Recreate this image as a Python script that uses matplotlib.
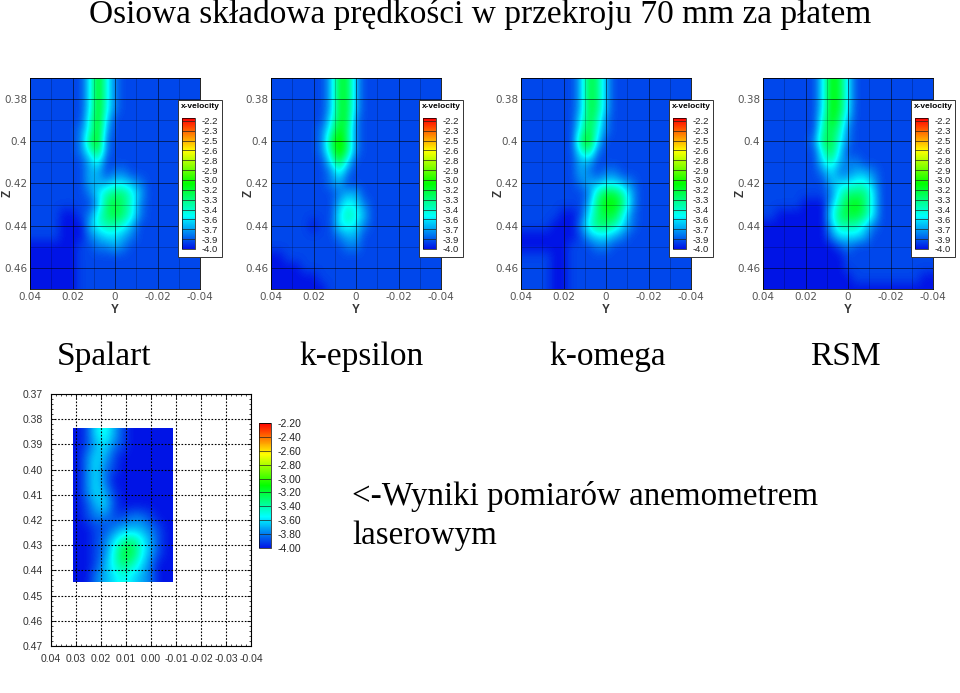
import numpy as np
import matplotlib
matplotlib.use('Agg')
import matplotlib.pyplot as plt
from matplotlib.colors import LinearSegmentedColormap, Normalize
from matplotlib.patches import Rectangle
from matplotlib.cm import ScalarMappable

W, H = 960, 693

# velocity, in -0.1 m/s, columns Y 0.04..-0.04 (step 0.004), rows Z 0.37..0.47 (step 0.005)
spalart = [
    [39,39,39,39,39,39,39,36,31,35,38,39,39,39,39,39,39,39,39,39,39],
    [39,39,39,39,39,39,39,36,31,35,38,39,39,39,39,39,39,39,39,39,39],
    [39,39,39,39,39,39,39,36,31,35,38,39,39,39,39,39,39,39,39,39,39],
    [39,39,39,39,39,39,39,36,31,35,38,39,39,39,39,39,39,39,39,39,39],
    [39,39,39,39,39,39,39,35,31,36,39,39,39,39,39,39,39,39,39,39,39],
    [39,39,39,39,39,39,38,35,31,37,39,39,39,39,39,39,39,39,39,39,39],
    [39,39,39,39,39,39,38,33,31,38,39,39,39,39,39,39,39,39,39,39,39],
    [39,39,39,39,39,39,38,35,32,38,39,39,39,39,39,39,39,39,39,39,39],
    [39,39,39,39,39,39,39,37,35,39,39,39,39,39,39,39,39,39,39,39,39],
    [39,39,39,39,39,39,39,37,37,39,38,38,39,39,39,39,39,39,39,39,39],
    [39,39,39,39,39,39,39,37,37,37,36,36,37,38,39,39,39,39,39,39,39],
    [39,39,39,39,39,39,39,38,36,34,33,33,35,37,39,39,39,39,39,39,39],
    [39,39,39,39,39,39,39,39,37,33,32,33,35,38,39,39,39,39,39,39,39],
    [39,39,39,39,40,40,39,38,35,33,32,33,35,38,39,39,39,39,39,39,39],
    [39,39,39,39,40,40,40,37,35,34,34,35,37,39,39,39,39,39,39,39,39],
    [39,39,39,39,40,40,40,38,37,36,36,37,38,39,39,39,39,39,39,39,39],
    [40,40,40,40,40,40,39,39,38,38,37,38,39,39,39,39,39,39,39,39,39],
    [40,40,40,40,40,40,39,39,39,39,39,39,39,39,39,39,39,39,39,39,39],
    [40,40,40,40,40,40,39,39,39,39,39,39,39,39,39,39,39,39,39,39,39],
    [40,40,40,40,40,40,39,39,39,39,39,39,39,39,39,39,39,39,39,39,39],
    [40,40,40,40,40,40,39,39,39,39,39,39,39,39,39,39,39,39,39,39,39],
]
k_epsilon = [
    [39,39,39,39,39,39,39,37,32,32,37,39,39,39,39,39,39,39,39,39,39],
    [39,39,39,39,39,39,39,37,32,32,37,39,39,39,39,39,39,39,39,39,39],
    [39,39,39,39,39,39,39,37,32,32,37,39,39,39,39,39,39,39,39,39,39],
    [39,39,39,39,39,39,39,37,32,32,37,39,39,39,39,39,39,39,39,39,39],
    [39,39,39,39,39,39,39,36,32,32,38,39,39,39,39,39,39,39,39,39,39],
    [39,39,39,39,39,39,38,35,31,33,38,39,39,39,39,39,39,39,39,39,39],
    [39,39,39,39,39,39,38,33,30,33,38,39,39,39,39,39,39,39,39,39,39],
    [39,39,39,39,39,39,38,34,30,33,38,39,39,39,39,39,39,39,39,39,39],
    [39,39,39,39,39,39,39,36,32,36,39,39,39,39,39,39,39,39,39,39,39],
    [39,39,39,39,39,39,39,38,35,38,39,39,39,39,39,39,39,39,39,39,39],
    [39,39,39,39,39,39,39,38,37,39,39,39,39,39,39,39,39,39,39,39,39],
    [39,39,39,39,39,39,39,39,38,37,37,39,39,39,39,39,39,39,39,39,39],
    [39,39,39,39,39,39,39,39,37,35,36,38,39,39,39,39,39,39,39,39,39],
    [39,39,39,39,39,39,39,39,36,34,35,37,39,39,39,39,39,39,39,39,39],
    [39,39,39,39,39,40,39,39,36,35,36,38,39,39,39,39,39,39,39,39,39],
    [39,39,39,39,39,39,39,39,38,37,37,39,39,39,39,39,39,39,39,39,39],
    [39,39,39,39,39,39,39,39,39,38,38,39,39,39,39,39,39,39,39,39,39],
    [40,40,39,39,39,39,39,39,39,39,39,39,39,39,39,39,39,39,39,39,39],
    [40,40,40,40,39,39,39,39,39,39,39,39,39,39,39,39,39,39,39,39,39],
    [40,40,40,40,40,40,39,39,39,39,39,39,39,39,39,39,39,39,39,39,39],
    [40,40,40,40,40,40,40,39,39,39,39,39,39,39,39,39,39,39,39,39,39],
]
k_omega = [
    [39,39,39,39,39,39,39,37,32,33,37,39,39,39,39,39,39,39,39,39,39],
    [39,39,39,39,39,39,39,37,32,33,37,39,39,39,39,39,39,39,39,39,39],
    [39,39,39,39,39,39,39,37,32,33,37,39,39,39,39,39,39,39,39,39,39],
    [39,39,39,39,39,39,39,37,32,33,37,39,39,39,39,39,39,39,39,39,39],
    [39,39,39,39,39,39,39,36,32,34,38,39,39,39,39,39,39,39,39,39,39],
    [39,39,39,39,39,39,39,35,32,35,38,39,39,39,39,39,39,39,39,39,39],
    [39,39,39,39,39,39,39,33,31,36,39,39,39,39,39,39,39,39,39,39,39],
    [39,39,39,39,39,39,39,35,33,38,39,39,39,39,39,39,39,39,39,39,39],
    [39,39,39,39,39,39,39,37,37,39,39,39,39,39,39,39,39,39,39,39,39],
    [39,39,39,39,39,39,39,37,38,39,38,38,39,39,39,39,39,39,39,39,39],
    [39,39,39,39,39,39,39,38,37,37,36,36,37,38,39,39,39,39,39,39,39],
    [39,39,39,39,39,39,39,39,38,34,32,32,34,37,39,39,39,39,39,39,39],
    [39,39,39,39,39,39,39,39,37,33,31,31,33,37,39,39,39,39,39,39,39],
    [39,39,39,39,39,40,40,39,36,33,32,32,35,38,39,39,39,39,39,39,39],
    [39,39,39,39,40,40,40,38,35,33,33,34,36,38,39,39,39,39,39,39,39],
    [40,40,40,40,40,40,40,39,37,36,36,37,38,39,39,39,39,39,39,39,39],
    [40,40,40,40,40,40,39,39,39,38,38,39,39,39,39,39,39,39,39,39,39],
    [39,39,39,39,40,40,39,39,39,39,39,39,39,39,39,39,39,39,39,39,39],
    [39,39,39,39,40,40,39,39,39,39,39,39,39,39,39,39,39,39,39,39,39],
    [39,39,39,39,40,40,39,39,39,39,39,39,39,39,39,39,39,39,39,39,39],
    [39,39,39,39,40,40,39,39,39,39,39,39,39,39,39,39,39,39,39,39,39],
]
rsm = [
    [39,39,39,39,39,39,39,36,31,32,36,39,39,39,39,39,39,39,39,39,39],
    [39,39,39,39,39,39,39,36,31,32,36,39,39,39,39,39,39,39,39,39,39],
    [39,39,39,39,39,39,39,36,31,32,36,39,39,39,39,39,39,39,39,39,39],
    [39,39,39,39,39,39,39,36,31,32,36,39,39,39,39,39,39,39,39,39,39],
    [39,39,39,39,39,39,39,35,31,33,37,39,39,39,39,39,39,39,39,39,39],
    [39,39,39,39,39,39,39,34,32,34,38,39,39,39,39,39,39,39,39,39,39],
    [39,39,39,39,39,39,38,33,32,35,38,39,39,39,39,39,39,39,39,39,39],
    [39,39,39,39,39,39,39,35,32,36,39,39,39,39,39,39,39,39,39,39,39],
    [39,39,39,39,39,39,39,36,34,37,38,38,39,39,39,39,39,39,39,39,39],
    [39,39,39,39,39,39,39,38,36,38,38,37,37,38,39,39,39,39,39,39,39],
    [39,39,39,39,39,39,39,39,37,36,36,35,35,37,39,39,39,39,39,39,39],
    [39,39,39,39,39,39,39,39,38,35,33,33,33,36,39,39,39,39,39,39,39],
    [39,39,39,39,39,40,40,40,37,34,32,31,33,36,39,39,39,39,39,39,39],
    [39,39,40,40,40,40,40,40,36,33,32,32,33,36,39,39,39,39,39,39,39],
    [40,40,40,40,40,40,40,40,37,34,34,34,36,38,39,39,39,39,39,39,39],
    [40,40,40,40,40,40,40,40,38,36,36,36,37,39,39,39,39,39,39,39,39],
    [40,40,40,40,40,40,40,40,40,39,38,39,39,39,39,39,39,39,39,39,39],
    [40,40,40,40,40,40,40,40,40,40,39,39,39,39,39,39,39,39,39,39,39],
    [40,40,40,40,40,40,40,40,40,40,39,39,39,39,39,39,39,39,39,39,39],
    [40,40,40,40,40,40,40,40,40,40,40,39,39,39,39,39,39,39,39,40,40],
    [40,40,40,40,40,40,40,40,40,40,40,40,40,40,40,40,40,40,40,40,40],
]
# laser measurement, 11 columns and 13 rows inside the measured rectangle
pomiar = [
    [40,39,36,35,37,39,40,40,40,40,40],
    [40,39,37,36,38,39,40,40,40,40,40],
    [40,38,36,37,39,40,40,40,40,40,40],
    [40,38,36,38,39,40,40,40,40,40,40],
    [40,38,36,38,40,40,40,40,40,40,40],
    [40,38,36,37,39,40,40,40,40,40,40],
    [40,39,37,36,39,40,40,40,40,40,40],
    [40,39,38,38,39,39,38,38,39,40,40],
    [40,40,39,39,38,37,37,37,38,39,40],
    [40,40,39,38,36,34,33,35,37,39,40],
    [40,40,39,38,35,32,32,35,37,39,40],
    [40,40,39,37,35,33,34,36,38,40,40],
    [40,40,38,37,36,35,36,37,38,40,40],
]
legend_labels = ['-2.2','-2.3','-2.5','-2.6','-2.8','-2.9','-3.0','-3.2','-3.3','-3.4','-3.6','-3.7','-3.9','-4.0']
pomiar_labels = ['-2.20','-2.40','-2.60','-2.80','-3.00','-3.20','-3.40','-3.60','-3.80','-4.00']
names = ['Spalart', 'k-epsilon', 'k-omega', 'RSM']
name_x = [104, 362, 608, 845]
panel_x = [30, 271, 521, 763]

cmap = LinearSegmentedColormap.from_list('vel', ['#0014e6', '#00ffff', '#00ff00', '#ffff00', '#ff0000'])
norm = Normalize(-4.0, -2.2)
sans = 'Liberation Sans'
serif = 'Liberation Serif'


def ax_px(x0, y0, x1, y1):
    return fig.add_axes([x0 / W, 1 - y1 / H, (x1 - x0) / W, (y1 - y0) / H])


def txt(x, y, s, **kw):
    return fig.text(x / W, 1 - y / H, s, **kw)


def colorbar(cax, labels, vtop, size):
    vals = np.linspace(-2.2, -4.0, len(labels))
    cb = fig.colorbar(ScalarMappable(Normalize(-4.0, vtop), cmap), cax=cax, ticks=vals)
    cb.ax.set_yticklabels(labels, fontsize=size, family=sans, color='#222222')
    cb.ax.tick_params(length=0, pad=5)
    cb.outline.set_linewidth(0.5)
    cb.ax.hlines(vals, 0, 1, color='#222222', lw=0.5)


fig = plt.figure(figsize=(W / 100, H / 100), dpi=100)

txt(480, 15, 'Osiowa składowa prędkości w przekroju 70 mm za płatem', family=serif, fontsize=24,
    ha='center', va='center')

for grid, x0, name, nx in zip([spalart, k_epsilon, k_omega, rsm], panel_x, names, name_x):
    ax = ax_px(x0, 78, x0 + 170, 289)
    vals = -np.array(grid) / 10
    ax.imshow(vals, cmap=cmap, norm=norm, aspect='auto', interpolation='bicubic',
              extent=(0.042, -0.042, 0.4725, 0.3675))
    ax.set_xlim(0.04, -0.04)
    ax.set_ylim(0.47, 0.37)
    ax.set_xticks([0.04, 0.02, 0, -0.02, -0.04], ['0.04', '0.02', '0', '-0.02', '-0.04'])
    ax.set_yticks([0.38, 0.40, 0.42, 0.44, 0.46], ['0.38', '0.4', '0.42', '0.44', '0.46'])
    ax.set_xticks(np.arange(-0.03, 0.04, 0.02), minor=True)
    ax.set_yticks(np.arange(0.37, 0.48, 0.02), minor=True)
    ax.grid(which='major', color='black', lw=0.7, alpha=0.55)
    ax.grid(which='minor', color='black', lw=0.5, alpha=0.3)
    ax.tick_params(which='both', length=0, pad=2, labelsize=7.5, labelcolor='#555555')
    for s in ax.spines.values():
        s.set_linewidth(0.6)
    txt(x0 + 85, 310, 'Y', family=sans, fontsize=8.5, fontweight='bold', color='#333333', ha='center', va='center')
    txt(x0 - 22, 193, 'Z', family=sans, fontsize=8.5, fontweight='bold', color='#333333', rotation=90,
        ha='center', va='center')

    # legend box drawn over the plot
    fig.add_artist(Rectangle(((x0 + 148) / W, 1 - 257 / H), 44 / W, 157 / H, transform=fig.transFigure,
                             fc='white', ec='#333333', lw=0.7, zorder=3))
    txt(x0 + 170, 107, 'x-velocity', family=sans, fontsize=6, fontweight='bold', ha='center', va='center', zorder=4)
    cax = ax_px(x0 + 152, 118, x0 + 165, 249)
    cax.set_zorder(5)
    colorbar(cax, legend_labels, -2.16, 6.8)

    txt(nx, 357, name, family=serif, fontsize=24, ha='center', va='center')

# measurement panel
ax = ax_px(51, 394, 251, 646)
ax.imshow(-np.array(pomiar) / 10, cmap=cmap, norm=norm, aspect='auto', interpolation='bicubic',
          extent=(0.0313, -0.0087, 0.4447, 0.3838))
ax.set_xlim(0.04, -0.04)
ax.set_ylim(0.47, 0.37)
xt = np.round(np.arange(0.04, -0.041, -0.01), 2)
yt = np.round(np.arange(0.37, 0.471, 0.01), 2)
ax.set_xticks(xt, ['%.2f' % (v + 0.0) for v in xt])
ax.set_yticks(yt, ['%.2f' % v for v in yt])
ax.set_xticks(np.arange(-0.04, 0.0401, 0.002), minor=True)
ax.set_yticks(np.arange(0.37, 0.4701, 0.002), minor=True)
ax.grid(which='major', color='black', lw=0.8, ls=(0, (1.5, 1.5)))
ax.tick_params(which='major', direction='in', length=3, width=0.6, top=True, right=True, pad=6,
               labelsize=7.5, labelcolor='#333333')
ax.tick_params(which='minor', direction='in', length=1.5, width=0.5, top=True, right=True)
for t in ax.get_xticklabels() + ax.get_yticklabels():
    t.set_family(sans)

cax = ax_px(259, 423, 271, 548)
colorbar(cax, pomiar_labels, -2.2, 7.5)

txt(352, 497, '<-Wyniki pomiarów anemometrem', family=serif, fontsize=23.8, va='center')
txt(352, 536, 'laserowym', family=serif, fontsize=23.8, va='center')

fig.savefig('out.png', dpi=100)
